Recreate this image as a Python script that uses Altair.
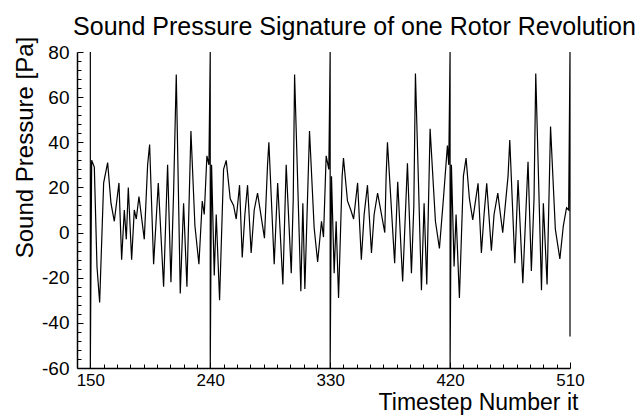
import altair as alt
import pandas as pd

# ---- data (timestep, sound pressure in Pa) ----
seg1_t = [150, 150, 151, 153, 155, 157, 160, 163, 165.5, 168, 171.5, 173.5, 175.5, 177, 178.5, 181, 183, 184.5,
          186.5, 190.5, 193, 194.5, 197.5, 201, 205, 208, 210.5, 212.5, 214.5, 217.5, 220, 222.5, 225.5, 228.5,
          231.5, 234, 235.5, 237.5, 239]
seg1_v = [80, -60, 32, 29, -15, -31, 22, 31, 13, 5, 22, -12, 10, -3, 20, -12, 10, 6,
          16, -3, 30, 39, -14, 22, -24, 30, -22, 18, 70, -27, 13, -24, 45, 3,
          -14, 14, 8, 34, 30]

seg2_t = [240, 240, 241, 243, 244.5, 247, 250, 252, 255, 257.5, 259.5, 262, 264, 266, 268, 270.7, 273, 275.5,
          280.7, 283, 284, 288, 290.6, 294.5, 297, 300.8, 302.3, 303.3, 308, 309.5, 311, 314.5, 318, 320.6,
          323.5, 325, 327, 329]
seg2_v = [80, -60, 30, -19, 8, -30, 28, 32, 15, 12, 6, 21, -11, 8, 21, -9, 10, 17.5,
          -2.5, 30, 40, -14, 22, -23, 30, -18, 15, 70, -26, 13, -25, 45, 2, -13,
          5, -2, 34, 28]

seg3_t = [330, 330, 331, 333, 334.5, 336.3, 339, 340, 343, 345.5, 347.6, 350.6, 353.4, 355.5, 358, 361, 363,
          365.6, 371, 372, 373, 378.4, 380.7, 384.4, 388, 391, 392.8, 394, 398.5, 400.5, 402.5, 405, 409, 412,
          415, 418, 419]
seg3_v = [80, -60, 25, -18, 5, -29, 25, 33, 14, 10, 6, 22, -12, 8, 21, -9, 8,
          17.5, 0, 25, 40, -13.6, 22.5, -21.7, 30.7, -18, 12, 70.5, -25.5, 13, -23, 46, 5, -7,
          15, 38.6, 30]

seg4_t = [420, 420, 421, 423, 424.5, 427, 430, 432, 434.5, 437, 441, 443.5, 445.5, 447.5, 451, 453, 455.8,
          459.5, 463.5, 464.8, 468.6, 471, 474.6, 478.5, 481, 483, 484.3, 488.6, 490, 492.8, 495.4, 499,
          502.4, 505, 507.4, 509, 510, 510]
seg4_v = [80, -60, 30, -15, 8, -29, 25, 33, 15, 5.6, 21.8, -9, 8, 21.8, -8, 8, 17.5,
          0, 25, 41, -13.6, 23.3, -22.4, 31.4, -17, 15, 70.5, -25.5, 13, -23, 47, 1.5,
          -11.7, 3, 11, 10, 80, -46]

x_major = [150, 240, 330, 420, 510]
x_minor = [v for v in range(150, 511, 10) if v not in x_major]
y_major = [-60, -40, -20, 0, 20, 40, 60, 80]
y_minor = [v for v in range(-60, 81, 4) if v not in y_major]

rows = []
for ts, vs in [(seg1_t, seg1_v), (seg2_t, seg2_v), (seg3_t, seg3_v), (seg4_t, seg4_v)]:
    for t, v in zip(ts, vs):
        rows.append((t, v))
df = pd.DataFrame(rows, columns=["t", "p"])
df["i"] = range(len(df))

FONT = "Liberation Sans"
xs = alt.Scale(domain=[140, 510], nice=False, zero=False)
ys = alt.Scale(domain=[-60, 80], nice=False, zero=False)

main = alt.Chart(df).mark_line(color="black", strokeWidth=1.2).encode(
    x=alt.X("t:Q", scale=xs, axis=alt.Axis(
        orient="bottom", values=x_major, grid=False, domain=True, domainColor="black", domainWidth=1.5,
        ticks=False, tickSize=0, labelFontSize=17, labelFont=FONT, labelColor="black", labelPadding=4,
        labelFlush=False, labelOverlap=False, labelExpr="'' + datum.value",
        title="Timestep Number it", titleFont=FONT, titleFontSize=23, titleFontWeight="normal",
        titleColor="black", titleX=401, titleY=41, titleAlign="center", titleBaseline="alphabetic")),
    y=alt.Y("p:Q", scale=ys, axis=alt.Axis(
        orient="left", values=y_major, grid=False, domain=True, domainColor="black", domainWidth=1.5,
        ticks=False, tickSize=0, labelFontSize=19, labelFont=FONT, labelColor="black", labelPadding=8,
        labelFlush=False, labelOverlap=False, labelExpr="'' + datum.value",
        title="Sound Pressure [Pa]", titleFont=FONT, titleFontSize=24, titleFontWeight="normal",
        titleColor="black", titleX=-45, titleY=95, titleAngle=270, titleAlign="center",
        titleBaseline="alphabetic")),
    order="i:Q",
)

def tick_layer(xv, yv, size):
    return alt.Chart(df).mark_line(strokeOpacity=0).encode(
        x=alt.X("t:Q", scale=xs, title="", axis=alt.Axis(
            orient="bottom", values=xv, grid=False, domain=False, labels=False, ticks=True,
            tickSize=size, tickColor="black", tickWidth=1, offset=-size)),
        y=alt.Y("p:Q", scale=ys, title="", axis=alt.Axis(
            orient="left", values=yv, grid=False, domain=False, labels=False, ticks=True,
            tickSize=size, tickColor="black", tickWidth=1, offset=-size)),
        order="i:Q",
    )

chart = alt.layer(main, tick_layer(x_minor, y_minor, 4), tick_layer(x_major, y_major, 6)).resolve_axis(
    x="independent", y="independent"
).properties(
    width=493, height=316,
    autosize=alt.AutoSizeParams(type="none"),
    padding={"left": 77, "top": 52, "right": 74, "bottom": 48},
    background="white",
    title=alt.TitleParams(
        text="Sound Pressure Signature of one Rotor Revolution", font=FONT, fontSize=25,
        fontWeight="normal", color="black", anchor="middle", dx=31, dy=28, baseline="alphabetic", offset=4),
).configure_view(stroke="transparent")

chart.save("out.html", embed_options={"renderer": "svg", "actions": False})
